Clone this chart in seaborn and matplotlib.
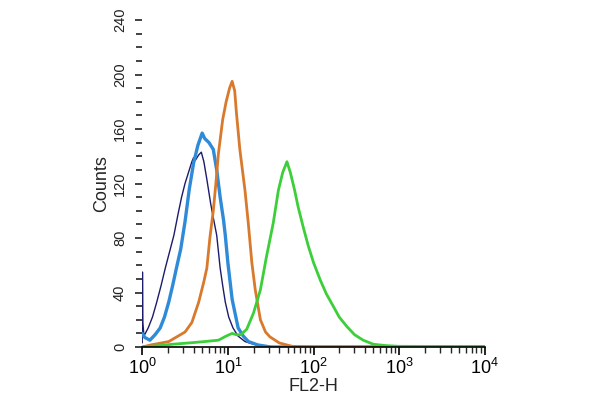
"""Histogramme de cytométrie en flux (FL2-H) : quatre populations superposées."""

import numpy as np
import pandas as pd
import matplotlib
matplotlib.use('Agg')
import matplotlib.pyplot as plt
import seaborn as sns
from matplotlib.ticker import MultipleLocator, LogLocator

# Positions en décades (log10 de FL2-H) et comptes.
navy_log = [0.0, 0.003, 0.008, 0.02, 0.07, 0.12, 0.17, 0.22, 0.27, 0.32, 0.37, 0.42,
            0.46, 0.50, 0.54, 0.58, 0.60, 0.62, 0.66, 0.69, 0.72, 0.755, 0.80, 0.83,
            0.87, 0.91, 0.94, 0.97, 1.01, 1.06, 1.12, 1.20, 1.30, 1.45, 1.6, 4.0]
navy_cnt = [3, 55, 18, 8, 14, 22, 33, 45, 58, 70, 82, 98,
            110, 120, 128, 136, 139, 137, 141, 143, 136, 123, 105, 95,
            82, 58, 45, 33, 22, 14, 8, 4, 2, 0.5, 0, 0]

blue_log = [0.0, 0.03, 0.09, 0.15, 0.21, 0.26, 0.31, 0.355, 0.40, 0.45, 0.50, 0.55,
            0.60, 0.65, 0.70, 0.73, 0.78, 0.83, 0.87, 0.91, 0.95, 0.97, 1.00, 1.05,
            1.12, 1.18, 1.24, 1.35, 1.5, 4.0]
blue_cnt = [10, 7, 5, 9, 14, 22, 33, 45, 58, 72, 92, 116,
            135, 148, 157, 153, 150, 145, 130, 110, 93, 82, 62, 35,
            14, 8, 4, 1.5, 0, 0]

orange_log = [0.0, 0.10, 0.31, 0.50, 0.58, 0.66, 0.72, 0.755, 0.79, 0.83, 0.86, 0.89,
              0.94, 0.98, 1.02, 1.05, 1.08, 1.10, 1.14, 1.20, 1.24, 1.28, 1.32, 1.38,
              1.44, 1.49, 1.6, 1.75, 2.0, 4.0]
orange_cnt = [0, 1.5, 4, 11, 18, 33, 48, 58, 80, 100, 120, 142,
              167, 180, 190, 195, 188, 172, 145, 115, 90, 62, 42, 20,
              11, 7.5, 3, 0.5, 0, 0]

green_log = [0.0, 0.2, 0.35, 0.55, 0.73, 0.89, 0.98, 1.05, 1.10, 1.15, 1.22, 1.30,
             1.38, 1.45, 1.53, 1.59, 1.64, 1.69, 1.73, 1.78, 1.82, 1.88, 1.94, 2.00,
             2.08, 2.15, 2.23, 2.30, 2.39, 2.48, 2.58, 2.7, 2.85, 3.0, 4.0]
green_cnt = [0, 1, 2, 3, 4, 5, 8, 10, 9, 9, 13, 25,
             42, 66, 91, 115, 128, 136, 128, 115, 103, 88, 74, 62,
             49, 39, 30, 22, 15, 9, 5, 2, 1, 0.5, 0.3]

y_ticks = [0, 40, 80, 120, 160, 200, 240]


def main():
    sns.set_style('white')
    plt.rcParams['font.family'] = ['Liberation Sans', 'DejaVu Sans']

    fig = plt.figure(figsize=(6, 4), dpi=100)
    ax = fig.add_axes([0.237, 0.1325, 0.571, 0.8175])

    series = [
        (navy_log, navy_cnt, '#1d1b6b', 1.0),
        (blue_log, blue_cnt, '#2f8bd8', 2.4),
        (orange_log, orange_cnt, '#d9792c', 2.0),
        (green_log, green_cnt, '#3ccf3a', 2.0),
    ]
    for xs, ys, col, lw in series:
        df = pd.DataFrame({'fl2': np.power(10.0, xs), 'count': ys})
        sns.lineplot(data=df, x='fl2', y='count', color=col, linewidth=lw,
                     sort=False, estimator=None, ax=ax)

    ax.set_xscale('log')
    ax.set_xlim(1, 1e4)
    ax.set_ylim(0, 240)
    ax.xaxis.set_major_locator(LogLocator(base=10))
    ax.xaxis.set_minor_locator(LogLocator(base=10, subs=np.arange(2, 10)))
    ax.set_yticks(y_ticks)
    ax.yaxis.set_minor_locator(MultipleLocator(10))

    for side in ['top', 'right', 'left']:
        ax.spines[side].set_visible(False)
    ax.spines['bottom'].set_color('black')
    ax.spines['bottom'].set_linewidth(1.2)

    ax.tick_params(axis='x', which='major', direction='out', length=6, width=1.2,
                   bottom=True, labelsize=13, pad=2, colors='black')
    ax.tick_params(axis='x', which='minor', direction='out', length=4, width=1,
                   bottom=True)
    ax.tick_params(axis='y', which='major', direction='out', length=5, width=1.2,
                   left=True, labelsize=10.5, pad=6, colors='#222222')
    ax.tick_params(axis='y', which='minor', direction='out', length=4, width=1.2,
                   left=True, colors='#222222')
    for lbl in ax.get_yticklabels():
        lbl.set_rotation(90)
        lbl.set_va('center')

    ax.set_xlabel('FL2-H', fontsize=13, labelpad=0)
    ax.set_ylabel('Counts', fontsize=13, labelpad=2)

    fig.savefig('out.png', dpi=100, facecolor='white')


if __name__ == '__main__':
    main()
